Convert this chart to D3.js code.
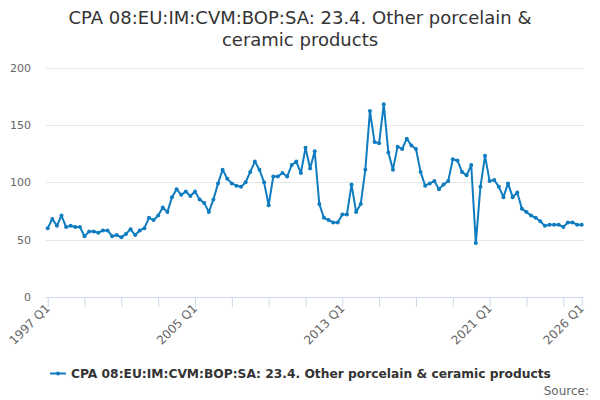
<!DOCTYPE html>
<html>
<head>
<meta charset="utf-8">
<script src="https://cdn.jsdelivr.net/npm/d3@7"></script>
<style>
  html, body { margin: 0; padding: 0; background: #fff; }
  svg { display: block; font-family: "DejaVu Sans", sans-serif; }
</style>
</head>
<body>
<svg id="chart" width="600" height="400"></svg>
<script>
// ---- data ----
const seriesName = "CPA 08:EU:IM:CVM:BOP:SA: 23.4. Other porcelain & ceramic products";
const titleLines = ["CPA 08:EU:IM:CVM:BOP:SA: 23.4. Other porcelain &", "ceramic products"];
const startYear = 1997;
const values = [
  60, 68, 62, 71, 61, 62, 61, 61, 53, 57, 57, 56, 58, 58, 53, 54,
  52, 55, 59, 54, 58, 60, 69, 67, 71, 78, 74, 87, 94, 89, 92, 88,
  92, 85, 82, 74, 85, 99, 111, 103, 99, 97, 96, 100, 109, 118, 111, 100,
  80, 105, 105, 108, 105, 115, 118, 108, 130, 112, 127, 81, 69, 67, 65, 65,
  72, 72, 98, 74, 81, 111, 162, 135, 134, 168, 126, 111, 131, 129, 138, 132,
  129, 109, 97, 99, 101, 94, 98, 101, 120, 119, 109, 106, 115, 47, 96, 123,
  101, 102, 96, 87, 99, 87, 91, 77, 74, 71, 69, 66, 62, 63, 63, 63,
  61, 65, 65, 63, 63
];
const categories = values.map((v, i) => (startYear + Math.floor(i / 4)) + " Q" + (i % 4 + 1));
const yTicks = [0, 50, 100, 150, 200];
const tickIdx = [0, 8, 16, 24, 32, 40, 48, 56, 64, 72, 80, 88, 96, 104, 112, 116];
const labelIdx = [0, 32, 64, 96, 116];

// ---- layout ----
const svg = d3.select("#chart");
const plot = { left: 46, right: 583.5, top: 67.5, bottom: 297 };
const x = d3.scaleLinear().domain([0, values.length - 1]).range([47.7, 581.7]);
const y = d3.scaleLinear().domain([0, 200]).range([plot.bottom, plot.top]);
const color = "#0f7cc0";

// title
svg.append("g").selectAll("text").data(titleLines).join("text")
  .attr("x", 300).attr("y", (d, i) => 24 + i * 22)
  .attr("text-anchor", "middle")
  .attr("font-size", 18).attr("fill", "#333333")
  .text(d => d);

// gridlines
svg.append("g").selectAll("line").data(yTicks.filter(d => d > 0)).join("line")
  .attr("x1", plot.left).attr("x2", plot.right)
  .attr("y1", d => Math.round(y(d)) + 0.5).attr("y2", d => Math.round(y(d)) + 0.5)
  .attr("stroke", "#e6e6e6").attr("stroke-width", 1);

// y labels
svg.append("g").selectAll("text").data(yTicks).join("text")
  .attr("x", 31).attr("y", d => y(d) + 4)
  .attr("text-anchor", "end")
  .attr("font-size", 11).attr("fill", "#666666")
  .text(d => d);

// x axis
const xAxis = d3.axisBottom(x).tickValues(tickIdx).tickSize(10).tickFormat("");
const gx = svg.append("g").attr("transform", `translate(0,${plot.bottom})`).call(xAxis);
gx.select(".domain").remove();
gx.selectAll(".tick line").attr("stroke", "#ccd6eb");
svg.append("line")
  .attr("x1", plot.left).attr("x2", plot.right)
  .attr("y1", plot.bottom + 0.5).attr("y2", plot.bottom + 0.5)
  .attr("stroke", "#ccd6eb");

svg.append("g").selectAll("text").data(labelIdx).join("text")
  .attr("transform", d => `translate(${x(d) + 3},${plot.bottom + 12}) rotate(-45)`)
  .attr("text-anchor", "end")
  .attr("font-size", 12).attr("fill", "#666666")
  .text(d => categories[d]);

// line
const line = d3.line().x((d, i) => x(i)).y(d => y(d));
svg.append("path").datum(values)
  .attr("d", line)
  .attr("fill", "none").attr("stroke", color)
  .attr("stroke-width", 2).attr("stroke-linejoin", "round").attr("stroke-linecap", "round");
svg.append("g").selectAll("circle").data(values).join("circle")
  .attr("cx", (d, i) => x(i)).attr("cy", d => y(d)).attr("r", 2)
  .attr("fill", color);

// legend
const lg = svg.append("g");
lg.append("line").attr("x1", 50).attr("x2", 66).attr("y1", 373.5).attr("y2", 373.5)
  .attr("stroke", color).attr("stroke-width", 2);
lg.append("circle").attr("cx", 58).attr("cy", 373.5).attr("r", 2).attr("fill", color);
lg.append("text").attr("x", 71).attr("y", 378)
  .attr("font-size", 12.25).attr("font-weight", "bold").attr("fill", "#333333")
  .text(seriesName);

// credit
svg.append("text").attr("x", 589).attr("y", 395)
  .attr("text-anchor", "end").attr("font-size", 12).attr("fill", "#666666")
  .text("Source:");
</script>
</body>
</html>
